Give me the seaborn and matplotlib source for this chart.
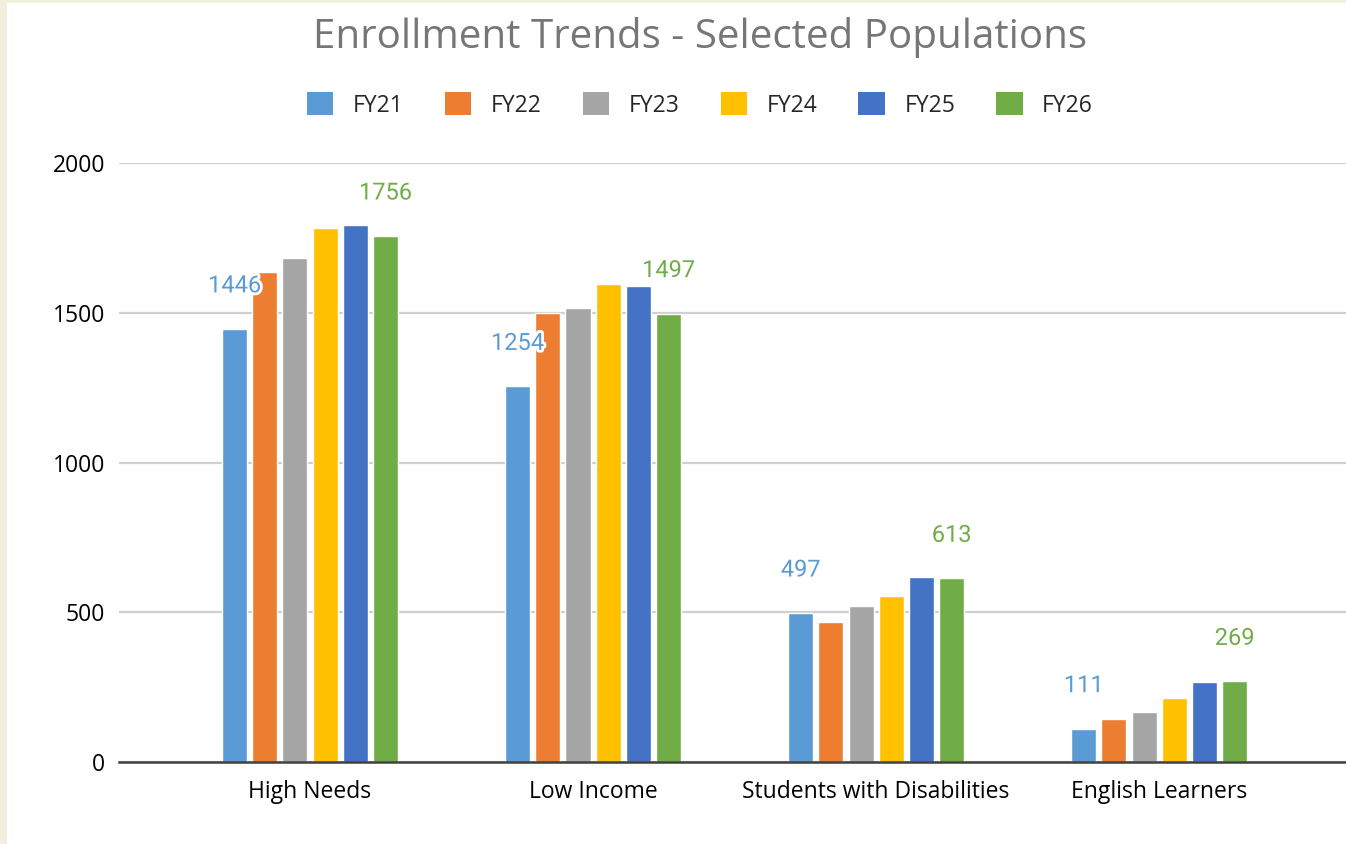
import pandas as pd
import numpy as np
import matplotlib
matplotlib.use('Agg')
import matplotlib.pyplot as plt
import matplotlib.patheffects as pe
from matplotlib.patches import Rectangle, Patch
import seaborn as sns

# ==================== 数据 ====================
groups = ['High Needs', 'Low Income', 'Students with Disabilities', 'English Learners']
years = ['FY21', 'FY22', 'FY23', 'FY24', 'FY25', 'FY26']
fy21 = [1446, 1254, 497, 111]
fy22 = [1636, 1500, 467, 144]
fy23 = [1683, 1516, 521, 167]
fy24 = [1783, 1596, 554, 214]
fy25 = [1793, 1589, 618, 268]
fy26 = [1756, 1497, 613, 269]
colors = ['#5B9BD5', '#ED7D31', '#A5A5A5', '#FFC000', '#4472C4', '#70AD47']
yticks = [0, 500, 1000, 1500, 2000]

series = [fy21, fy22, fy23, fy24, fy25, fy26]
df = pd.DataFrame([
    {'group': g, 'year': yr, 'value': v}
    for yr, vals in zip(years, series)
    for g, v in zip(groups, vals)
])

sns.set_style('white')
plt.rcParams['font.family'] = ['Open Sans', 'DejaVu Sans']

W, H = 1346, 844
fig = plt.figure(figsize=(W / 100, H / 100), dpi=100, facecolor='#F3EFDF')
fig.patches.append(Rectangle((7 / W, 0), 1 - 7 / W, 1 - 3 / H, transform=fig.transFigure,
                             facecolor='white', edgecolor='none', zorder=-10))

ax = fig.add_axes([119 / W, 82 / H, 1227 / W, 599 / H])
ax.set_facecolor('none')

sns.barplot(data=df, x='group', y='value', hue='year', order=groups, hue_order=years,
            palette=colors, width=0.64, gap=0.17, saturation=1, legend=False, ax=ax)

ax.set_xlim(-0.675, 3.66)
ax.set_ylim(0, 2000)
ax.set_yticks(yticks)
ax.yaxis.grid(True, color='#D0D0D0', linewidth=1.6)
ax.set_axisbelow(True)
for s in ['top', 'right', 'left']:
    ax.spines[s].set_visible(False)
ax.spines['bottom'].set_color('#404040')
ax.spines['bottom'].set_linewidth(1.8)
ax.tick_params(axis='both', length=0, labelsize=16.5, colors='black')
ax.tick_params(axis='y', pad=10)
ax.tick_params(axis='x', pad=13)
ax.set_xlabel('')
ax.set_ylabel('')

# 数值标签（FY21 与 FY26）
bar_step = 0.64 / 6
for idx, vals, col in [(0, fy21, '#5B9BD5'), (5, fy26, '#70AD47')]:
    for i, v in enumerate(vals):
        xpos = i - 0.32 + bar_step * (idx + 0.5)
        ax.annotate(str(v), (xpos, v), xytext=(0, 31), textcoords='offset points',
                    ha='center', va='center', fontsize=17, color=col, family=['Roboto', 'DejaVu Sans'],
                    annotation_clip=False,
                    path_effects=[pe.withStroke(linewidth=4, foreground='white')])

fig.text(700 / W, 1 - 38 / H, 'Enrollment Trends - Selected Populations',
         ha='center', va='center', fontsize=29, color='#767676')

handles = [Patch(facecolor=c, edgecolor='none') for c in colors]
fig.legend(handles, years, loc='center', bbox_to_anchor=(700 / W, 1 - 105 / H), ncol=6,
           frameon=False, fontsize=16.5, handlelength=1.15, handleheight=1.15,
           handletextpad=0.85, columnspacing=1.8)

fig.savefig('out.png', dpi=100, facecolor=fig.get_facecolor())
